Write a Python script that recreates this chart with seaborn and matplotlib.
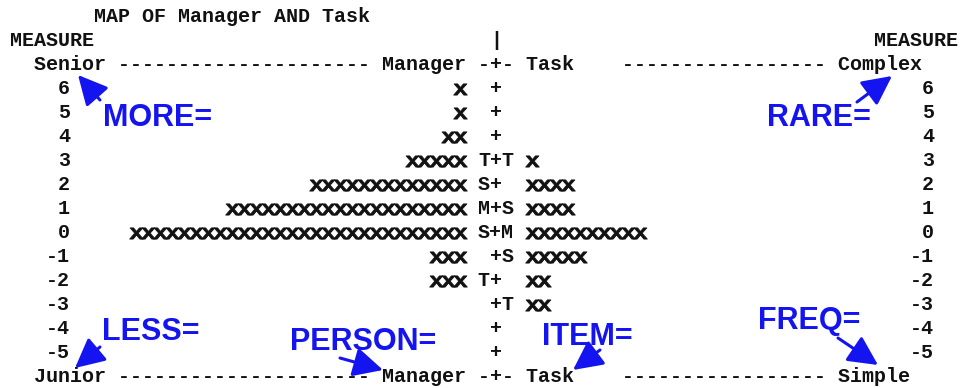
import numpy as np
import pandas as pd
import matplotlib
matplotlib.use("Agg")
import matplotlib.pyplot as plt
import seaborn as sns
from matplotlib.textpath import TextPath
from matplotlib.font_manager import FontProperties
from matplotlib.path import Path

# ---------------- data ----------------
measures = [6, 5, 4, 3, 2, 1, 0, -1, -2, -3, -4, -5]
manager_counts = [1, 1, 2, 5, 13, 20, 28, 3, 3, 0, 0, 0]
task_counts = [0, 0, 0, 1, 4, 4, 10, 5, 2, 2, 0, 0]
person_marks = ["", "", "", "T", "S", "M", "S", "", "T", "", "", ""]
item_marks = ["", "", "", "T", "", "S", "M", "S", "", "T", "", ""]
title = "MAP OF Manager AND Task"
person_label = "Manager"
item_label = "Task"
top_left, bottom_left = "Senior", "Junior"
top_right, bottom_right = "Complex", "Simple"
notes = ["MORE=", "RARE=", "LESS=", "PERSON=", "ITEM=", "FREQ="]

# ---------------- layout (character columns / text lines) ----------------
W, H = 960, 388
CW = 12.0          # px per character column
PITCH = 24.0       # px per text line
COL0 = 16.0        # pixel centre of column 0
Y_TITLE = 17.0     # pixel centre of title line (measure 9)
MID = 40           # column of the '+' axis
PERSON_END = 37    # right-most column of person X's
ITEM_START = 43    # first column of item X's

sns.set_theme(style="white")
plt.rcParams["font.family"] = ["Liberation Mono", "DejaVu Sans Mono"]

fig = plt.figure(figsize=(W / 100, H / 100), dpi=100)
ax = fig.add_axes([0, 0, 1, 1])
ax.set_xlim(-COL0 / CW, (W - COL0) / CW)
ax.set_ylim(9 - (H - Y_TITLE) / PITCH, 9 + Y_TITLE / PITCH)
ax.axis("off")

# long X records
rows = []
for m, nc, nt in zip(measures, manager_counts, task_counts):
    for k in range(nc):
        rows.append({"col": PERSON_END - k, "measure": m, "who": "person"})
    for k in range(nt):
        rows.append({"col": ITEM_START + k, "measure": m, "who": "item"})
df = pd.DataFrame(rows)

# X-shaped marker from a monospace glyph, made a bit wider than tall
tp = TextPath((0, 0), "X", size=1, prop=FontProperties(family="Liberation Mono", weight="bold"))
v = tp.vertices.copy()
x0, x1 = v[:, 0].min(), v[:, 0].max()
y0, y1 = v[:, 1].min(), v[:, 1].max()
v[:, 0] = (v[:, 0] - (x0 + x1) / 2) / (x1 - x0) * 1.0
v[:, 1] = (v[:, 1] - (y0 + y1) / 2) / (y1 - y0) * 0.82
xmark = Path(v, tp.codes)

sns.scatterplot(data=df, x="col", y="measure", marker=xmark, s=(13.6 * 0.72) ** 2,
                color="#111111", linewidth=0.6, edgecolor="#111111", ax=ax, legend=False)

fs = 14.4
tkw = dict(fontsize=fs, fontweight="bold", color="#111111", va="center")

def put(col, m, s, ha="left"):
    x = col - 0.5 if ha == "left" else col + 0.5
    ax.text(x, m, s, ha=ha, **tkw)

put(7, 9, title)
put(0, 8, "MEASURE")
put(MID, 8, "|")
put(78, 8, "MEASURE", ha="right")

def header(left, right):
    return (f"{left} " + "-" * 21 + f" {person_label} -+- {item_label}" + " " * 4
            + "-" * 17 + f" {right}")

put(2, 7, header(top_left, top_right))
put(2, -6, header(bottom_left, bottom_right))

for m, pm, im in zip(measures, person_marks, item_marks):
    put(4, m, str(m), ha="right")
    put(76, m, str(m), ha="right")
    put(MID - 1, m, (pm or " ") + "+" + (im or " "))

# ---------------- blue annotations ----------------
blue = "#1414F0"
def fp(x, y):
    return (x, H - y)

note_pos = [(103, 118), (767, 118), (102, 332), (290, 342), (542, 337), (758, 321)]
for s, (x, y) in zip(notes, note_pos):
    ax.annotate(s, xy=fp(x, y), xycoords="figure pixels", ha="left", va="center",
                fontsize=22, fontweight="bold", color=blue, family="Liberation Sans")

arrows = [((100, 100), (78, 75)), ((857, 102), (892, 76)), ((100, 347), (75, 368)),
          ((340, 358), (383, 370)), ((600, 350), (573, 370)), ((838, 338), (878, 365))]
for tail, tip in arrows:
    ax.annotate("", xy=fp(*tip), xytext=fp(*tail), xycoords="figure pixels",
                textcoords="figure pixels",
                arrowprops=dict(arrowstyle="-|>,head_length=0.9,head_width=0.45",
                                color=blue, lw=2.2, mutation_scale=20, shrinkA=0, shrinkB=0))

fig.savefig("out.png", dpi=100, facecolor="white")
